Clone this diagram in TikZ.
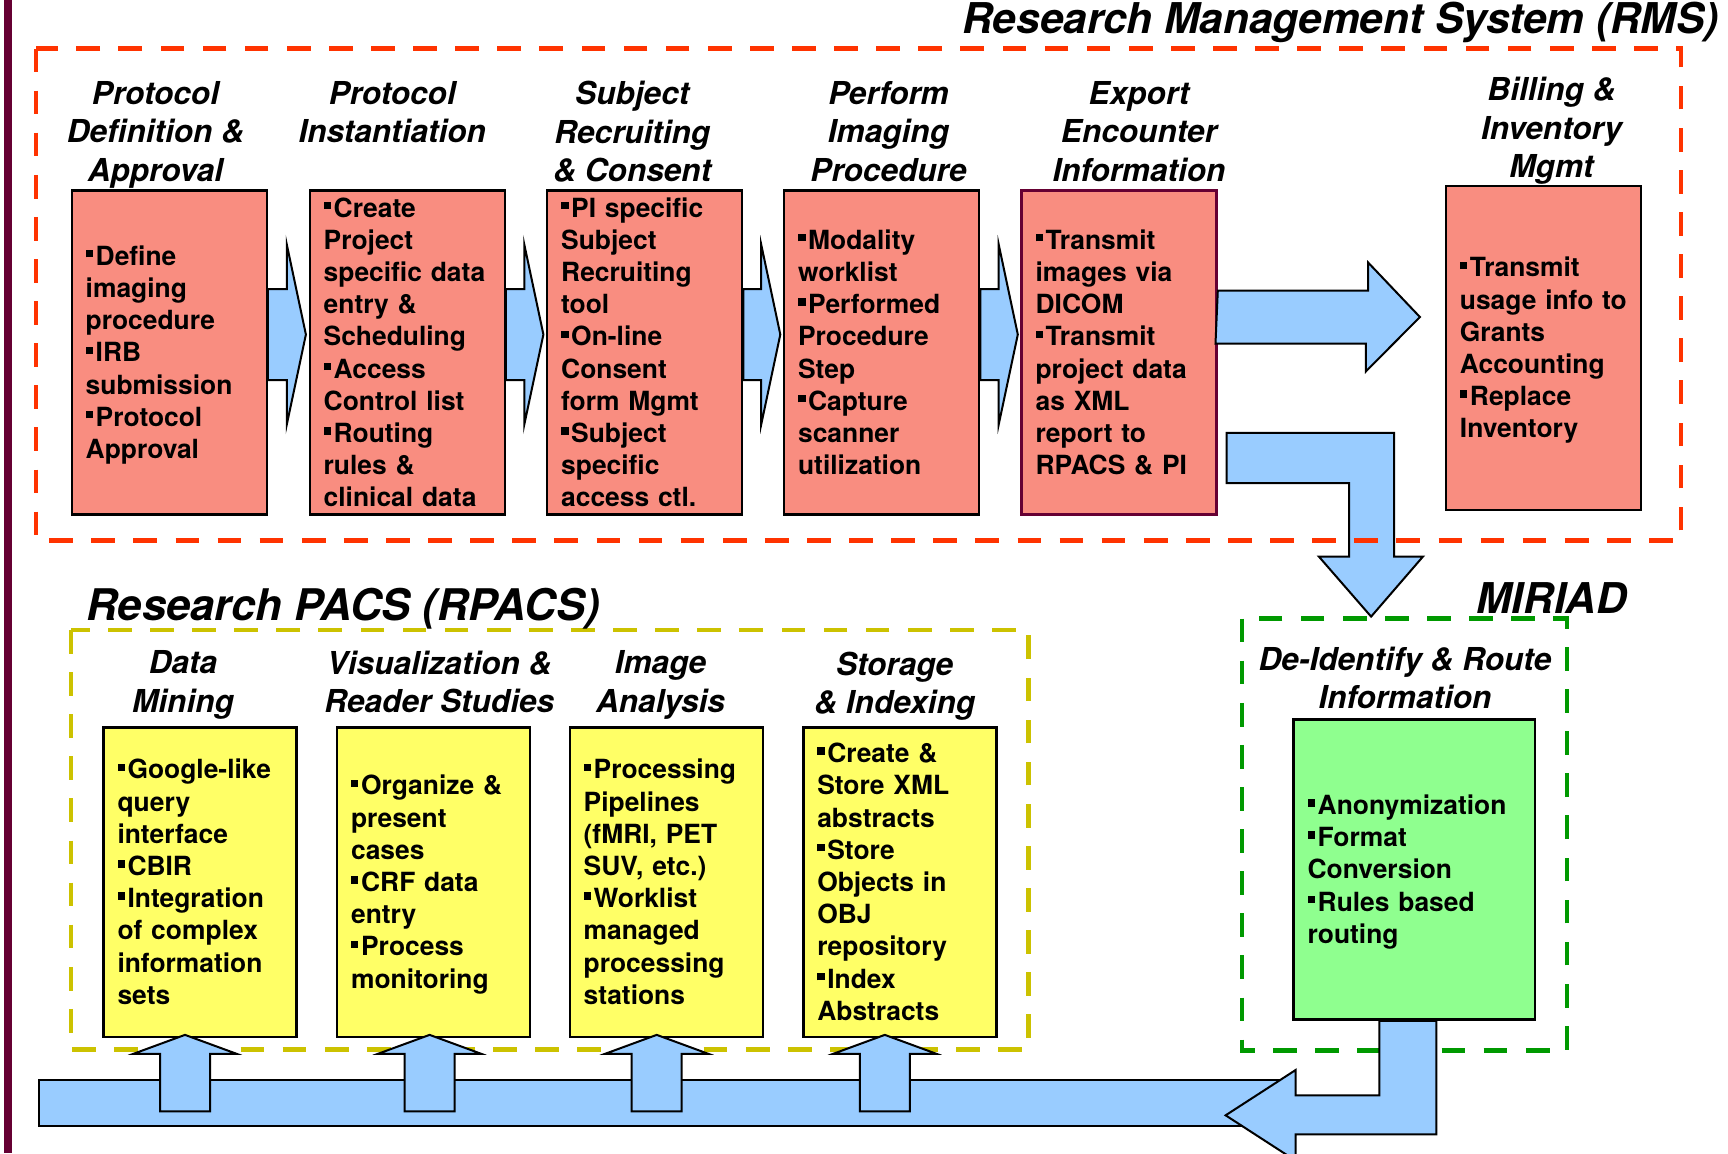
\documentclass[tikz,border=0pt]{standalone}
\usepackage{fontspec}
\setmainfont{TeX Gyre Heros}
\usetikzlibrary{calc}

\definecolor{salmon}{RGB}{249,141,128}
\definecolor{lemon}{RGB}{255,255,102}
\definecolor{mint}{RGB}{143,255,143}
\definecolor{sky}{RGB}{153,204,255}
\definecolor{rmsred}{RGB}{255,51,0}
\definecolor{olive}{RGB}{204,194,0}
\definecolor{miriadgreen}{RGB}{0,153,0}
\definecolor{maroon}{RGB}{102,0,51}

\newcommand\bul{\rule[.3em]{.28em}{.28em}\hspace{.1em}}
\newcommand\rflow[2]{\draw[flow] ($(#1.east)+(0,-63.6)$) -- ($(#2.west)+(-21.7,-63.6)$) -- ++(0,-44.5) -- ($(#2.west)+(-2.6,-18.1)$) -- ($(#2.west)+(-21.7,71.9)$) -- ++(0,-44.5) -- ($(#1.east)+(0,27.4)$) -- cycle;}
\newcommand\uflow[2]{\draw[flow] ($(#1.south)+(#2-25,73)$) -- ++(0,-57.5) -- ++(-26.5,0) -- ++(51.5,-18.9) -- ++(51.5,18.9) -- ++(-26.5,0) -- ++(0,57.5) -- cycle;}

\begin{document}
\begin{tikzpicture}[x=0.5pt,y=-0.5pt,
    body/.style={draw, line width=1.2pt, align=left, inner xsep=7pt, inner ysep=0pt,
      font=\fontsize{13.2pt}{16.1pt}\selectfont\bfseries,
      execute at begin node=\rule{0pt}{.92em},
      execute at end node=\rule[-.21em]{0pt}{.21em}},
    rms/.style={body, fill=salmon, minimum width=97.5pt, minimum height=162pt, text width=83.5pt},
    rpacs/.style={body, fill=lemon, minimum width=96.5pt, minimum height=154.85pt, text width=82.5pt},
    mir/.style={body, fill=mint, minimum width=120.75pt, minimum height=150pt, text width=106.75pt},
    head/.style={anchor=north, inner sep=0pt, align=center,
      font=\fontsize{15.8pt}{19.2pt}\selectfont\bfseries\itshape},
    title/.style={inner sep=0pt, font=\fontsize{21.2pt}{25pt}\selectfont\bfseries\itshape},
    frame/.style={line width=2.4pt, dash pattern=on 11.85pt off 9.2pt},
    flow/.style={draw=black, fill=sky, line width=1pt}]
  \useasboundingbox (0,0) rectangle (1728,1153);
  \clip (0,0) rectangle (1728,1153);
  \fill[maroon] (4,0) rectangle (12,1153);

  \node[draw, fill=sky, line width=1pt, inner sep=0pt, minimum width=624.7pt, minimum height=23pt] (bus) at (663.3,1103) {};
  \draw[frame, olive] (71,630) rectangle (1028.7,1049.8);
  \draw[frame, miriadgreen] (1242,618.6) rectangle (1567,1050.5);

  \node[title, anchor=base east] (rmst) at (1719,33.6) {Research Management System (RMS)};
  \node[title, anchor=base west, font=\fontsize{21.8pt}{25pt}\selectfont\bfseries\itshape] (rpacst) at (86,620.5) {Research PACS (RPACS)};
  \node[title, anchor=base west] (mirt) at (1476,613) {MIRIAD};

  \node[head] (defh) at (155.5,81) {Protocol\\Definition \&\\Approval};
  \node[head] (insth) at (392.3,81) {Protocol\\Instantiation};
  \node[head] (recruith) at (632.3,81) {Subject\\Recruiting\\\& Consent};
  \node[head] (perfh) at (888.5,81) {Perform\\Imaging\\Procedure};
  \node[head] (exph) at (1139,81) {Export\\Encounter\\Information};
  \node[head] (billh) at (1551.5,77) {Billing \&\\Inventory\\Mgmt};

  \node[rms] (def) at (169.2,352.6) {\bul Define\\imaging\\procedure\\\bul IRB\\submission\\\bul Protocol\\Approval};
  \node[rms] (inst) at (407.2,352.6) {\bul Create\\Project\\specific data\\entry \&\\Scheduling\\\bul Access\\Control list\\\bul Routing\\rules \&\\clinical data};
  \node[rms] (recruit) at (644.7,352.6) {\bul PI specific\\Subject\\Recruiting\\tool\\\bul On-line\\Consent\\form Mgmt\\\bul Subject\\specific\\access ctl.};
  \node[rms] (perf) at (881.6,352.6) {\bul Modality\\worklist\\\bul Performed\\Procedure\\Step\\\bul Capture\\scanner\\utilization};
  \node[rms, draw=maroon] (exp) at (1119.1,352.6) {\bul Transmit\\images via\\DICOM\\\bul Transmit\\project data\\as XML\\report to\\RPACS \& PI};
  \node[rms] (bill) at (1543.4,348.2) {\bul Transmit\\usage info to\\Grants\\Accounting\\\bul Replace\\Inventory};

  \node[head] (mineh) at (183,650.5) {Data\\Mining};
  \node[head] (vish) at (439.2,650.5) {Visualization \&\\Reader Studies};
  \node[head] (anah) at (660.5,650.5) {Image\\Analysis};
  \node[head] (stoh) at (894.7,651.5) {Storage\\\& Indexing};
  \node[head] (deidh) at (1405,646.5) {De-Identify \& Route\\Information};

  \node[rpacs] (mine) at (200,882.2) {\bul Google-like\\query\\interface\\\bul CBIR\\\bul Integration\\of complex\\information\\sets};
  \node[rpacs] (vis) at (433.6,882.2) {\bul Organize \&\\present\\cases\\\bul CRF data\\entry\\\bul Process\\monitoring};
  \node[rpacs] (ana) at (666.2,882.2) {\bul Processing\\Pipelines\\(fMRI, PET\\SUV, etc.)\\\bul Worklist\\managed\\processing\\stations};
  \node[rpacs] (sto) at (899.8,882.2) {\bul Create \&\\Store XML\\abstracts\\\bul Store\\Objects in\\OBJ\\repository\\\bul Index\\Abstracts};
  \node[mir] (deid) at (1414.4,869.6) {\bul Anonymization\\\bul Format\\Conversion\\\bul Rules based\\routing};

  \rflow{def}{inst}
  \rflow{inst}{recruit}
  \rflow{recruit}{perf}
  \rflow{perf}{exp}
  \draw[flow] ($(exp.east)+(0,-62.1)$) -- ++(150.4,0) -- ++(0,-27.9) -- ($(bill.west)+(-24.8,-31.2)$) -- ++(-54,54.4) -- ++(0,-27.9) -- ++(-150.4,0) -- cycle;
  \draw[flow] ($(exp.east)+(8.9,80.2)$) -- ++(167.5,0) -- ++(0,123.7) -- ++(28.8,0) -- ++(-51.9,60.1) -- ++(-52.3,-60.1) -- ++(30.2,0) -- ++(0,-73.5) -- ++(-122.3,0) -- cycle;
  \draw[flow] ($(deid.south)+(-35.1,0)$) -- ++(57.1,0) -- ++(0,113.5) -- ++(-140.8,0) -- ++(0,26.3) -- ++(-70,-45.3) -- ++(70,-45.3) -- ++(0,25.3) -- ++(83.7,0) -- cycle;
  \uflow{mine}{-15}
  \uflow{vis}{-4}
  \uflow{ana}{-9.5}
  \uflow{sto}{-15}

  \draw[frame, rmsred] (36,48.5) rectangle (1681,540.5);
\end{tikzpicture}
\end{document}
